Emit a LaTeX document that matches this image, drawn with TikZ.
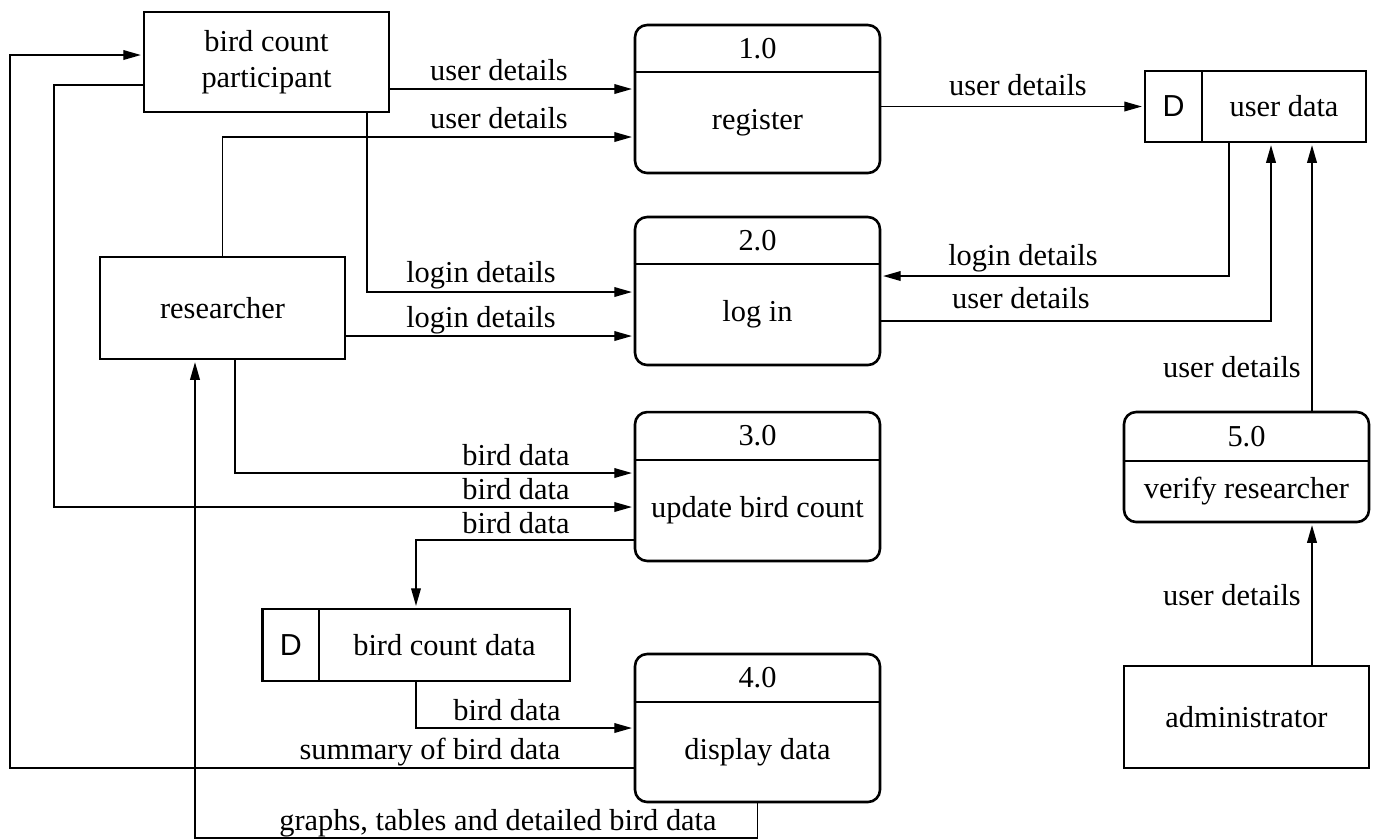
\documentclass[tikz,border=0pt]{standalone}
\usepackage{fontspec}
\setmainfont{Liberation Serif}
\newfontfamily\dfont{Liberation Sans}
\usetikzlibrary{arrows.meta}
\begin{document}
\begin{tikzpicture}[x=0.329pt,y=-0.329pt,
		ent/.style={draw,line width=0.85pt,minimum width=80.6pt,align=center},
		proc/.style={draw,line width=0.85pt,rounded corners=4pt,minimum width=80.6pt},
		store/.style={draw,line width=0.85pt},
		div/.style={line width=0.85pt},
		flow/.style={line width=0.45pt,-{Triangle[length=5.8pt,width=3.2pt]},shorten >=0.6pt},
		lbl/.style={anchor=base,inner sep=0pt}]
		\useasboundingbox (0,0) rectangle (1375,839);
		\node[ent,minimum height=32.9pt] at (266.5,62) (part) {bird count\\participant};
		\node[ent,minimum height=33.6pt] at (222.5,308) (res) {researcher};
		\node[ent,minimum height=33.6pt] at (1246.5,717) (adm) {administrator};
		\node[store,minimum width=18.75pt,minimum height=23.4pt] at (1173.5,106.5) (udd) {\dfont D};
		\node[store,minimum width=54pt,minimum height=23.4pt] at (1284,106.5) (ud) {user data};
		\node[store,minimum width=18.6pt,minimum height=23.7pt] at (290.75,645) (bcdd) {\dfont D};
		\node[store,minimum width=82.6pt,minimum height=23.7pt] at (444.5,645) (bcd) {bird count data};
		\node[proc,minimum height=48.7pt] at (757.5,99) (p1) {};
		\node at (757.5,48.5) (p1n) {1.0};
		\node at (757.5,122.5) (p1t) {register};
		\draw[div] (p1.west |- 0,72) -- (p1.east |- 0,72);
		\node[proc,minimum height=48.7pt] at (757.5,291) (p2) {};
		\node at (757.5,240.5) (p2n) {2.0};
		\node at (757.5,314.5) (p2t) {log in};
		\draw[div] (p2.west |- 0,264) -- (p2.east |- 0,264);
		\node[proc,minimum height=49pt] at (757.5,486.5) (p3) {};
		\node at (757.5,436) (p3n) {3.0};
		\node at (757.5,510.5) (p3t) {update bird count};
		\draw[div] (p3.west |- 0,460) -- (p3.east |- 0,460);
		\node[proc,minimum height=48.7pt] at (757.5,728) (p4) {};
		\node at (757.5,678) (p4n) {4.0};
		\node at (757.5,752) (p4t) {display data};
		\draw[div] (p4.west |- 0,702) -- (p4.east |- 0,702);
		\node[proc,minimum height=36.2pt] at (1246.5,467) (p5) {};
		\node at (1246.5,436.5) (p5n) {5.0};
		\node at (1246.5,491.5) (p5t) {verify researcher};
		\draw[div] (p5.west |- 0,461) -- (p5.east |- 0,461);
		\draw[flow] (part.east |- 0,89) -- (p1.west |- 0,89) node[lbl] (l1) at (499,80) {user details};
		\draw[flow] (res.north) |- (p1.west |- 0,137) node[lbl] (l2) at (499,128) {user details};
		\draw[flow] (part.south -| 367,0) |- (p2.west |- 0,292) node[lbl] (l3) at (481,282) {login details};
		\draw[flow] (res.east |- 0,336) -- (p2.west |- 0,336) node[lbl] (l4) at (481,327) {login details};
		\draw[flow] (p1.east |- udd.west) -- (udd.west) node[lbl] (l5) at (1018,95) {user details};
		\draw[flow] (ud.south -| 1229,0) |- (p2.east |- 0,276) node[lbl] (l6) at (1023,265) {login details};
		\draw[flow] (p2.east |- 0,321) -| (ud.south -| 1271,0) node[lbl] (l7) at (1021,308) {user details};
		\draw[flow] (p5.north -| 1312,0) -- (ud.south -| 1312,0) node[lbl] (l8) at (1232,377) {user details};
		\draw[flow] (adm.north -| 1312,0) -- (p5.south -| 1312,0) node[lbl] (l9) at (1232,605) {user details};
		\draw[flow] (res.south -| 235,0) |- (p3.west |- 0,473) node[lbl] (l10) at (516,465) {bird data};
		\draw[flow] (part.west |- 0,85) -| (54,507) -- (p3.west |- 0,507) node[lbl] (l11) at (516,499) {bird data};
		\draw[flow] (p3.west |- 0,540) -| (bcd.north -| 416,0) node[lbl] (l12) at (516,533) {bird data};
		\draw[flow] (bcd.south -| 416,0) |- (p4.west |- 0,728) node[lbl] (l13) at (507,720) {bird data};
		\draw[flow] (p4.west |- 0,768) -| (10,55) -- (part.west |- 0,55) node[lbl] (l14) at (430,759) {summary of bird data};
		\draw[flow] (p4.south) |- (195,838) -- (res.south -| 195,0) node[lbl] (l15) at (498,830) {graphs, tables and detailed bird data};
	\end{tikzpicture}
\end{document}
